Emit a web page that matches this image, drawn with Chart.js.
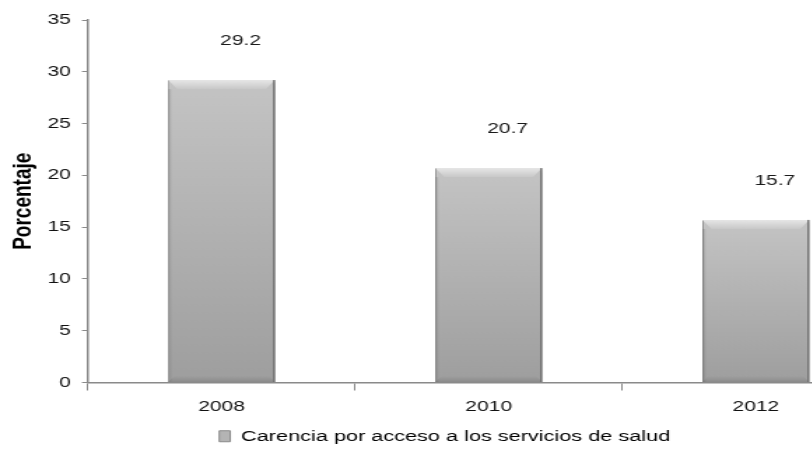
<!DOCTYPE html>
<html>
<head>
<meta charset="utf-8">
<script src="https://cdn.jsdelivr.net/npm/chart.js@4/dist/chart.umd.min.js"></script>
<style>
  html, body { margin: 0; padding: 0; background: #fff; overflow: hidden; }
</style>
</head>
<body>
<canvas id="c" width="659" height="470" style="width:922px;height:470px;"></canvas>
<script>
// datos del grafico
const years = ['2008', '2010', '2012'];
const carencia = [29.2, 20.7, 15.7];
const yTicks = [0, 5, 10, 15, 20, 25, 30, 35];
const seriesName = 'Carencia por acceso a los servicios de salud';
const yTitle = 'Porcentaje';

// the reference is stretched sideways, so draw narrow and widen with css
const SX = 1.4;
const FONT = "'Liberation Sans', Arial, sans-serif";

// per-bar vertical gradient, built from the y scale
function barFill(ctx) {
  const chart = ctx.chart;
  const y = chart.scales.y;
  if (!y || ctx.raw === undefined) return '#b0b0b0';
  const top = y.getPixelForValue(ctx.raw);
  const bot = y.getPixelForValue(0);
  if (!isFinite(top) || !isFinite(bot) || top === bot) return '#b0b0b0';
  const g = chart.ctx.createLinearGradient(0, top, 0, bot);
  g.addColorStop(0, '#c4c4c4');
  g.addColorStop(1, '#9e9e9e');
  return g;
}

// drop shadow under the bars
const shadow = {
  id: 'shadow',
  beforeDatasetDraw(chart) {
    const c = chart.ctx;
    c.save();
    c.shadowColor = 'rgba(0,0,0,0.35)';
    c.shadowBlur = 4;
    c.shadowOffsetX = 1.5;
    c.shadowOffsetY = 2;
  },
  afterDatasetDraw(chart) {
    chart.ctx.restore();
  }
};

// bevel edges and value labels
const bevel = {
  id: 'bevel',
  afterDatasetsDraw(chart) {
    const c = chart.ctx;
    chart.getDatasetMeta(0).data.forEach((bar, i) => {
      const l = bar.x - bar.width / 2, r = bar.x + bar.width / 2;
      const t = bar.y, b = bar.base;
      const d = 9, dx = d / SX;
      c.save();
      let g = c.createLinearGradient(0, t, 0, t + d);
      g.addColorStop(0, '#e6e6e6');
      g.addColorStop(1, '#c8c8c8');
      c.fillStyle = g;
      c.beginPath();
      c.moveTo(l, t); c.lineTo(r, t); c.lineTo(r - dx, t + d); c.lineTo(l + dx, t + d);
      c.closePath();
      c.fill();
      // bottom bevel
      g = c.createLinearGradient(0, b - 6, 0, b);
      g.addColorStop(0, 'rgba(0,0,0,0)');
      g.addColorStop(1, 'rgba(0,0,0,0.12)');
      c.fillStyle = g;
      c.beginPath();
      c.moveTo(l, b); c.lineTo(r, b); c.lineTo(r - 6 / SX, b - 6); c.lineTo(l + 6 / SX, b - 6);
      c.closePath();
      c.fill();
      // side edges
      c.fillStyle = 'rgba(0,0,0,0.10)';
      c.fillRect(l, t + d, 3 / SX, b - t - d);
      c.fillStyle = '#6e6e6e';
      c.fillRect(r - 1.3, t, 1.3, b - t);
      c.restore();

      c.save();
      c.fillStyle = '#1a1a1a';
      c.font = '15px ' + FONT;
      c.textAlign = 'center';
      c.textBaseline = 'middle';
      c.fillText(carencia[i].toFixed(1), bar.x + 19 / SX, t - 39);
      c.restore();
    });
  }
};

new Chart(document.getElementById('c'), {
  type: 'bar',
  data: {
    labels: years,
    datasets: [{
      label: seriesName,
      data: carencia,
      backgroundColor: barFill,
      borderColor: '#8c8c8c',
      borderWidth: 1,
      barPercentage: 0.4,
      categoryPercentage: 1
    }]
  },
  options: {
    responsive: false,
    animation: false,
    layout: { padding: { top: 20, right: 659 - 890 / SX, bottom: 16, left: 0 } },
    plugins: {
      tooltip: { enabled: false },
      legend: {
        position: 'bottom',
        labels: {
          color: '#111',
          font: { family: FONT, size: 15.5 },
          boxWidth: 11 / SX,
          boxHeight: 11,
          padding: 10,
          generateLabels: (chart) => [{
            text: seriesName,
            fillStyle: '#b4b4b4',
            strokeStyle: '#8a8a8a',
            lineWidth: 1,
            datasetIndex: 0
          }]
        }
      }
    },
    scales: {
      x: {
        grid: { drawOnChartArea: false, tickLength: 8, tickColor: '#8a8a8a', offset: true },
        border: { color: '#8a8a8a', width: 1.5 },
        ticks: { color: '#111', font: { family: FONT, size: 15 }, padding: 7, maxRotation: 0 },
        afterFit: (s) => { s.height = 36; }
      },
      y: {
        min: 0,
        max: 35,
        afterBuildTicks: (s) => { s.ticks = yTicks.map(v => ({ value: v })); },
        grid: { drawOnChartArea: false, tickLength: 6 / SX, tickColor: '#8a8a8a' },
        border: { color: '#8a8a8a', width: 1.5 },
        ticks: { color: '#111', font: { family: FONT, size: 15 }, padding: 8 },
        title: {
          display: true,
          text: yTitle,
          color: '#000',
          font: { family: FONT, size: 19, weight: 'bold' },
          padding: { top: 5, bottom: 0 }
        },
        afterFit: (s) => { s.width = 88 / SX; }
      }
    }
  },
  plugins: [shadow, bevel]
});
</script>
</body>
</html>
